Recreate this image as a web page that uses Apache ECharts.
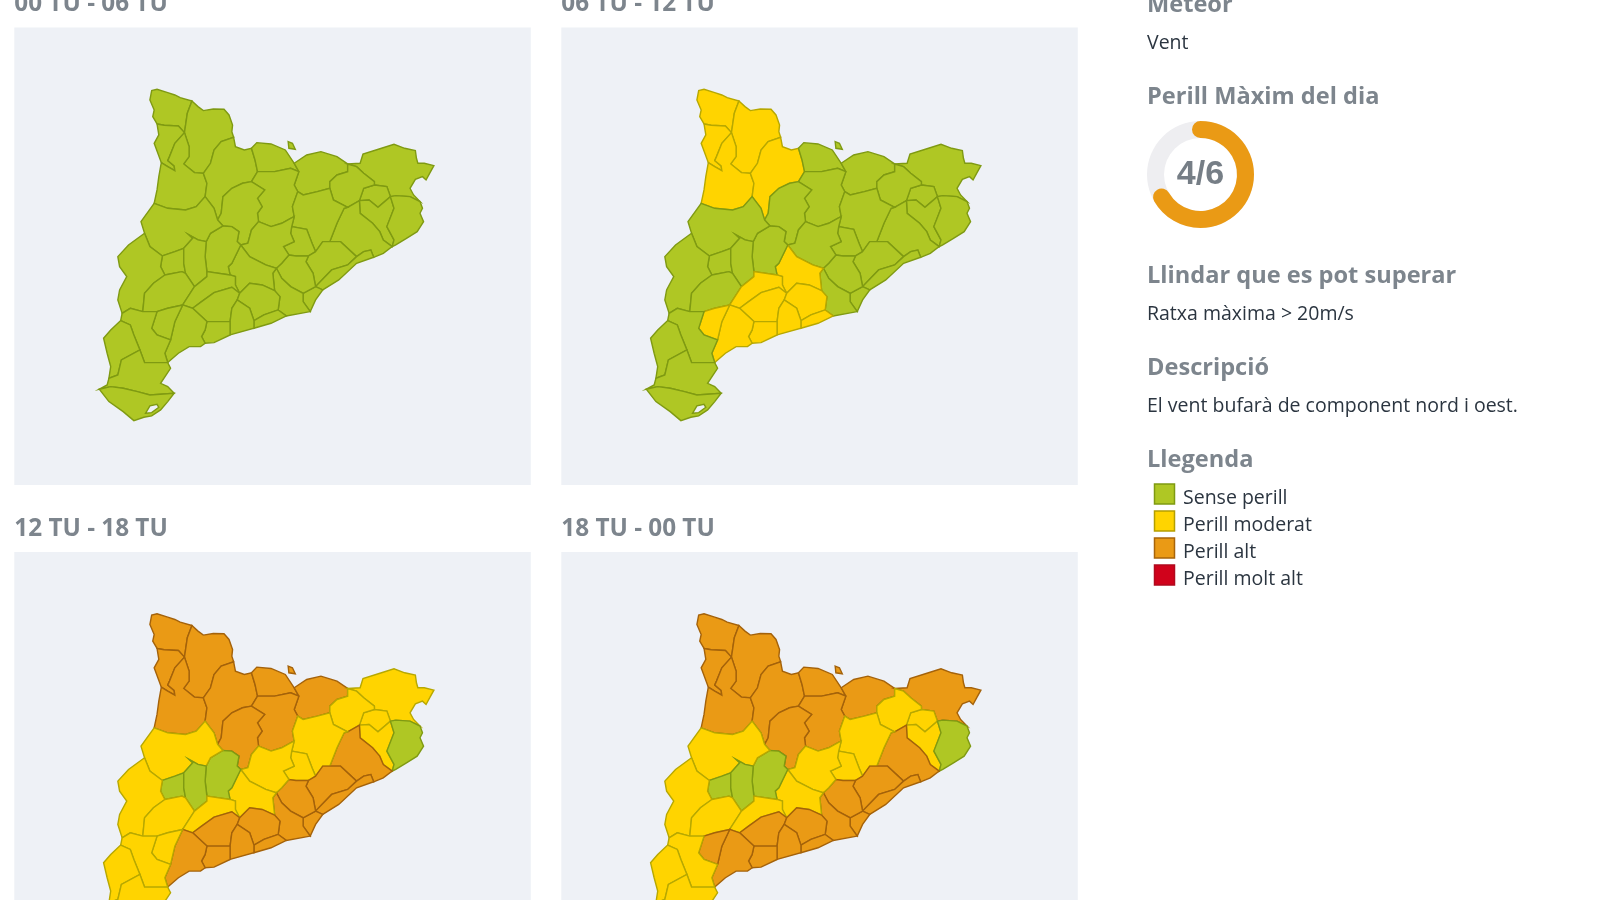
<!DOCTYPE html>
<html>
<head>
<meta charset="utf-8">
<style>
html, body { margin: 0; padding: 0; background: #fff; }
#main { width: 1600px; height: 900px; }
</style>
<script src="https://cdn.jsdelivr.net/npm/echarts@6/dist/echarts.min.js"></script>
</head>
<body>
<div id="main"></div>
<script>
const periods = ['00 TU - 06 TU', '06 TU - 12 TU', '12 TU - 18 TU', '18 TU - 00 TU'];
const comarques = ["Val d'Aran", 'Alta Ribagorça', 'Pallars Sobirà', 'Pallars Jussà', 'Alt Urgell', 'Cerdanya', 'Ripollès', 'Berguedà', 'Solsonès',
    'Alt Empordà', "Pla de l'Estany", 'Garrotxa', 'Gironès', 'Baix Empordà', 'Selva', 'Osona', 'Moianès', 'Vallès Oriental', 'Maresme', 'Barcelonès',
    'Vallès Occidental', 'Bages', 'Baix Llobregat', 'Anoia', 'Segarra', 'Noguera', "Pla d'Urgell", 'Urgell', 'Segrià', 'Garrigues', 'Conca de Barberà',
    'Alt Camp', 'Alt Penedès', 'Garraf', 'Baix Penedès', 'Tarragonès', 'Baix Camp', 'Priorat', "Ribera d'Ebre", 'Terra Alta', 'Baix Ebre', 'Montsià'];
// perill per comarca, same order as comarques
const levels00 = [1,1,1,1,1,1,1,1,1, 1,1,1,1,1,1,1,1,1,1,1, 1,1,1,1,1,1,1,1,1,1,1, 1,1,1,1,1,1,1,1,1,1,1];
const levels06 = [2,2,2,2,2,1,1,1,1, 1,1,1,1,1,1,1,1,1,1,1, 1,1,1,2,1,1,1,1,1,1,2, 2,2,2,2,2,2,2,1,1,1,1];
const levels12 = [3,3,3,3,3,3,3,3,3, 2,2,2,2,1,3,2,2,3,3,3, 3,2,3,2,1,2,1,1,2,2,2, 3,3,3,3,3,3,2,2,2,2,2];
const levels18 = [3,3,3,3,3,3,3,3,3, 3,2,2,2,1,3,2,2,3,3,3, 3,2,3,2,1,2,1,1,2,2,2, 3,3,3,3,3,3,3,2,2,2,2];
const legendLabels = ['Sense perill', 'Perill moderat', 'Perill alt', 'Perill molt alt'];
const legendFill = ['#afc724', '#ffd400', '#ea9a15', '#d0021b'];
const legendBorder = ['#7f9a12', '#b59f00', '#a8640a', '#b00a1e'];
const mapBorder = ['#7f9a12', '#b7a800', '#a4620a', '#a00a1e'];
const maxLevel = 4;
const levelSteps = 6;

// comarca borders
const arcs = {
    o1: '440,372 428,350 432,330 420,300 425,272 440,268 470,278 490,285 505,293 538,303',
    o2: '538,303 555,320 570,332 598,327 628,328 642,345 652,375 650,395 655,412',
    o3: '452,488 432,430 445,405 440,372',
    o4: '452,488 445,530 440,570 432,610',
    o5: '655,412 660,440 685,450 705,445',
    o6: '705,445 720,428 760,432 800,450 825,490',
    o7: '825,490 860,465 900,455 945,470 975,492',
    o8: '975,492 1010,490 1018,462 1070,445 1105,433 1135,445 1165,452 1168,475 1172,490 1190,490 1217,497 1205,520 1195,540 1185,530 1165,538 1150,565 1160,585 1178,605',
    o9: '1178,605 1185,625 1178,640 1188,665 1170,695 1140,715 1110,735 1100,740',
    o10: '1100,740 1075,760 1048,772',
    o11: '1048,772 1000,790 950,840 905,870',
    o12: '905,870 885,900 870,935',
    o13: '870,935 803,948',
    o14: '405,700 395,665 432,610',
    o15: '405,700 360,735 330,770 335,800 355,830 335,870 330,900 342,940',
    o16: '803,948 760,970 712,985',
    o17: '712,985 645,1005',
    o18: '645,1005 600,1028 575,1030',
    o19: '575,1030 562,1040 530,1040 500,1060 470,1088',
    o20: '338,962 342,940',
    o21: '305,1135 310,1100 300,1060 290,1015 310,990 338,962',
    o22: '470,1088 478,1105 450,1150 470,1160 488,1180',
    o23: '278,1168 300,1155 305,1135',
    o24: '488,1180 470,1205 450,1230 425,1248 403,1252 375,1262 345,1235 305,1205 278,1168',
    i1: '440,372 460,376 500,378 517,398',
    i2: '538,303 525,340 517,398',
    i3: '655,412 620,425 600,450 590,490 570,520',
    i4: '570,520 545,518 515,492 530,470 530,440 517,398',
    i5: '517,398 490,430 475,470 470,482',
    i6: '470,482 488,498 490,512 470,500 452,488',
    i7: '432,610 470,625 520,630 550,620 575,590',
    i8: '570,520 580,550 575,590',
    i9: '705,445 715,480 722,515',
    i10: '722,515 705,545',
    i11: '705,545 680,550 650,565 625,590 620,640 610,660',
    i12: '575,590 600,625 610,660',
    i13: '825,490 838,515',
    i14: '838,515 815,505 770,515 722,515',
    i15: '975,492 975,515 945,525 925,545 925,565',
    i16: '925,565 890,575 850,585 835,575',
    i17: '835,575 825,555 838,515',
    i18: '835,575 820,620 825,650',
    i19: '825,650 815,655 790,670 760,680 725,665',
    i20: '725,665 722,640 735,620 722,595 742,570 705,545',
    i21: '610,660 625,678',
    i22: '625,678 650,680 670,695 665,725 675,735',
    i23: '675,735 695,730 705,690 725,665',
    i24: '975,492 1000,500 1020,520 1050,545 1050,555',
    i25: '1050,555 1085,560 1095,590',
    i26: '1095,590 1110,587 1150,590 1178,605',
    i27: '1095,590 1060,622 1035,600 1008,602',
    i28: '1008,602 1020,565 1050,555',
    i29: '1008,602 975,622',
    i30: '975,622 935,600 925,565',
    i31: '1095,590 1105,625 1085,680 1105,720 1100,740',
    i32: '1100,740 1075,720 1065,695 1045,670 1010,640 1008,602',
    i33: '1048,772 1040,750 1020,755 1000,770',
    i34: '1000,770 955,725 925,725',
    i35: '925,725 945,670 965,625 975,622',
    i36: '825,650 818,680',
    i37: '818,680 860,688 875,730 885,755',
    i38: '885,755 905,725 925,725',
    i39: '818,680 815,700 825,725 795,740 810,765',
    i40: '810,765 830,768 865,768',
    i41: '865,768 885,755',
    i42: '1000,770 975,795 930,810 885,860',
    i43: '885,860 878,820 858,785 865,768',
    i44: '905,870 885,860',
    i45: '870,935 850,905 850,880',
    i46: '850,880 885,860',
    i47: '850,880 815,860 790,835 775,805',
    i48: '775,805 790,790 810,765',
    i49: '775,805 745,795 700,770 675,735',
    i50: '803,948 780,930',
    i51: '780,930 785,890 770,872',
    i52: '770,872 765,820 775,805',
    i53: '770,872 735,855 700,850 672,880',
    i54: '672,880 660,855 660,830 645,825',
    i55: '645,825 640,800 650,790 675,735',
    i56: '645,825 580,815',
    i57: '580,815 575,770 578,725',
    i58: '578,725 590,700 625,678',
    i59: '578,725 555,720 530,705 540,715 515,745',
    i60: '515,745 490,755 455,768',
    i61: '455,768 420,740 405,700',
    i62: '515,745 515,790 520,820',
    i63: '520,820 510,815 462,825',
    i64: '462,825 450,800 455,768',
    i65: '580,815 580,830 545,860',
    i66: '545,860 520,820',
    i67: '342,940 365,925 400,935',
    i68: '400,935 405,880 430,850 462,825',
    i69: '400,935 440,935',
    i70: '440,935 470,925 512,915',
    i71: '512,915 545,860',
    i72: '540,925 565,905 600,878 650,862 672,880',
    i73: '672,880 665,900',
    i74: '665,900 650,925 645,965',
    i75: '645,965 610,965 580,965',
    i76: '580,965 540,925',
    i77: '780,930 740,945 712,962',
    i78: '712,962 700,925 665,900',
    i79: '712,985 712,962',
    i80: '645,1005 645,965',
    i81: '575,1030 565,1010 575,990 580,965',
    i82: '470,1088 462,1060 478,1020',
    i83: '478,1020 490,965 512,915',
    i84: '440,935 425,985 440,1005 478,1020',
    i85: '470,1088 440,1088 405,1088 392,1050',
    i86: '392,1050 375,1005 365,975 338,962',
    i87: '392,1050 340,1080 330,1125 305,1135',
    i88: '488,1180 420,1185 385,1175 345,1165 310,1160 278,1168',
    i89: '512,915 540,925'
};
const llivia = '808,425 820,430 828,448 810,445';
const deltaBay = '408,1240 425,1238 445,1222 440,1213 420,1218';

// rings of each comarca, same order as comarques, - means the arc runs backwards
const rings = [
    'o1 i2 -i1', 'i1 i5 i6 o3', 'o2 i3 i4 -i2', 'i5 i6 o4 i7 -i8 i4', 'o5 i9 i10 i11 -i12 -i8 -i3', 'o6 i13 i14 -i9', 'o7 i15 i16 i17 -i13',
    '-i14 -i17 i18 i19 i20 -i10', 'i11 i21 i22 i23 i20',
    'o8 -i26 -i25 -i24', 'i25 i27 i28', 'i24 -i28 i29 i30 -i15', '-i27 i31 i32', 'i26 o9 -i31', '-i29 -i32 o10 i33 i34 i35',
    'i36 i37 i38 i35 i30 i16 i18', 'i39 i40 i41 -i37', 'i38 -i34 i42 i43 i41', '-i33 o11 i44 -i42', '-i44 o12 i45 i46',
    '-i46 i47 i48 i40 -i43', '-i19 i36 i39 -i48 i49 i23', '-i47 -i45 o13 i50 i51 i52', '-i49 -i52 i53 i54 i55', 'i22 -i55 i56 i57 i58',
    'i7 i12 i21 -i58 i59 i60 i61 o14', '-i60 i62 i63 i64', '-i57 i65 i66 -i62 -i59', 'o15 i67 i68 i64 i61', '-i68 i69 i70 i71 i66 i63',
    '-i71 i89 i72 i54 i56 i65', 'i72 i73 i74 i75 i76', '-i53 -i51 i77 i78 -i73', '-i50 o16 i79 -i77', '-i78 -i79 o17 i80 -i74',
    '-i75 -i80 o18 i81', '-i76 -i81 o19 i82 i83 i89', '-i70 i84 i83', 'i67 i69 i84 -i82 i85 i86 o20', '-i86 i87 o21', '-i85 o22 i88 o23 -i87', '-i88 o24'
];

function parsePoints(text) {
    return text.split(' ').map(function (pair) {
        const p = pair.split(',').map(Number);
        return [p[0] / 2.8, -p[1] / 3];
    });
}

function buildRing(refs) {
    const out = [];
    refs.split(' ').forEach(function (ref) {
        const back = ref[0] === '-';
        const pts = parsePoints(arcs[back ? ref.slice(1) : ref]);
        if (back) pts.reverse();
        pts.forEach(function (p, i) {
            if (i > 0 || out.length === 0) out.push(p);
        });
    });
    return out;
}

function closed(pts) {
    return pts.concat([pts[0]]);
}

const features = comarques.map(function (name, i) {
    let geometry = { type: 'Polygon', coordinates: [closed(buildRing(rings[i]))] };
    if (name === 'Cerdanya') {
        geometry = { type: 'MultiPolygon', coordinates: [[closed(buildRing(rings[i]))], [closed(parsePoints(llivia))]] };
    }
    if (name === 'Montsià') {
        geometry.coordinates.push(closed(parsePoints(deltaBay)));
    }
    return { type: 'Feature', properties: { name: name }, geometry: geometry };
});
// one map name per panel, series that share a name get merged into one view
periods.forEach(function (p, i) {
    echarts.registerMap('catalunya' + i, { type: 'FeatureCollection', features: JSON.parse(JSON.stringify(features)) });
});

const panelX = [14.3, 561.3, 14.3, 561.3];
const panelY = [27.5, 27.5, 552, 552];
const periodLevels = [levels00, levels06, levels12, levels18];
const headFont = '"Open Sans", sans-serif';
const headColor = '#7d858d';
const textColor = '#2b3540';

function mapSeries(index) {
    const dx = panelX[index] - panelX[0];
    const dy = panelY[index] - panelY[0];
    return {
        type: 'map',
        map: 'catalunya' + index,
        left: 99.3 + dx,
        top: 89.3 + dy,
        width: 334.6,
        height: 331.3,
        silent: true,
        roam: false,
        showLegendSymbol: false,
        label: { show: false },
        data: comarques.map(function (name, i) {
            const level = periodLevels[index][i];
            return {
                name: name,
                value: level,
                itemStyle: { areaColor: legendFill[level - 1], borderColor: mapBorder[level - 1], borderWidth: 1.4 }
            };
        })
    };
}

function textItem(text, x, y, size, bold) {
    return {
        type: 'text',
        x: x,
        y: y,
        style: {
            text: text,
            fontFamily: headFont,
            fontSize: size,
            fontWeight: bold ? 'bold' : 'normal',
            fill: bold ? headColor : textColor,
            textVerticalAlign: 'middle'
        }
    };
}

const graphics = [];
periods.forEach(function (label, i) {
    graphics.push({
        type: 'rect',
        z: -1,
        shape: { x: panelX[i], y: panelY[i], width: 516.5, height: 457.5 },
        style: { fill: '#eef1f6' }
    });
    graphics.push(textItem(label, panelX[i], panelY[i] - 23, 24.3, true));
});
graphics.push(textItem('Meteor', 1147, 5, 23.6, true));
graphics.push(textItem('Vent', 1147, 43, 19.5, false));
graphics.push(textItem('Perill Màxim del dia', 1147, 97, 23.6, true));
graphics.push(textItem('Llindar que es pot superar', 1147, 276, 23.6, true));
graphics.push(textItem('Ratxa màxima > 20m/s', 1147, 314, 19.5, false));
graphics.push(textItem('Descripció', 1147, 368, 23.6, true));
graphics.push(textItem('El vent bufarà de component nord i oest.', 1147, 406, 19.5, false));
graphics.push(textItem('Llegenda', 1147, 460, 23.6, true));

legendLabels.forEach(function (label, i) {
    const top = 484 + i * 27;
    graphics.push({
        type: 'rect',
        shape: { x: 1154.5, y: top, width: 20, height: 20 },
        style: { fill: legendFill[i], stroke: legendBorder[i], lineWidth: 1.5 }
    });
    graphics.push(textItem(label, 1183, top + 14, 19.5, false));
});

const chart = echarts.init(document.getElementById('main'));
chart.setOption({
    animation: false,
    backgroundColor: '#fff',
    graphic: graphics,
    series: periods.map(function (p, i) { return mapSeries(i); }).concat([{
        type: 'gauge',
        center: [1200.5, 174.5],
        radius: 53.5,
        startAngle: 90,
        endAngle: -270,
        min: 0,
        max: levelSteps,
        silent: true,
        axisLine: { lineStyle: { width: 17, color: [[1, '#eeeef1']] } },
        progress: { show: true, roundCap: true, width: 17, itemStyle: { color: legendFill[2] } },
        pointer: { show: false },
        anchor: { show: false },
        axisTick: { show: false },
        splitLine: { show: false },
        axisLabel: { show: false },
        title: { show: false },
        detail: {
            offsetCenter: [0, 0],
            formatter: '{value}/' + levelSteps,
            fontFamily: '"Liberation Sans", Arial, sans-serif',
            fontSize: 34,
            fontWeight: 'bold',
            color: '#767e86'
        },
        data: [{ value: maxLevel }]
    }])
});
</script>
</body>
</html>
